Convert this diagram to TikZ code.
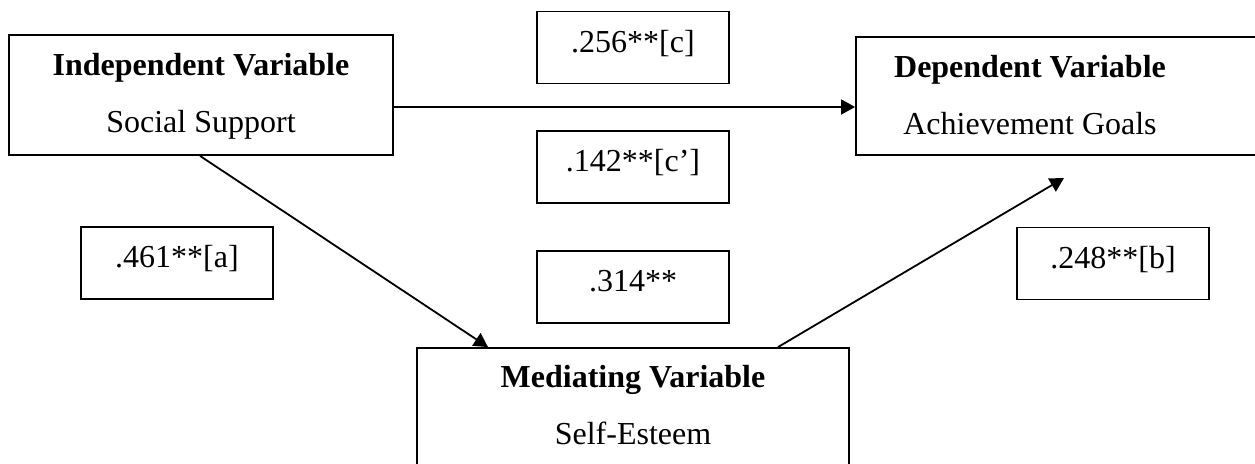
\documentclass[tikz,border=0pt]{standalone}
\usepackage{fontspec}
\setmainfont{Liberation Serif}
\usetikzlibrary{arrows.meta}
\begin{document}
\begin{tikzpicture}[x=0.5pt,y=-0.5pt,
  box/.style={draw, line width=0.9pt, inner sep=0pt},
  numbox/.style={box, minimum width=96pt, minimum height=36pt, text height=11pt, text depth=6pt, font=\fontsize{16}{19}\selectfont},
  conn/.style={line width=0.9pt, -{Triangle[length=7pt,width=7.5pt]}},
  lab/.style={font=\fontsize{16}{19}\selectfont, anchor=base, inner sep=0pt},
  ttl/.style={font=\fontsize{16}{19}\selectfont\bfseries, anchor=base, inner sep=0pt}]
\clip (0,0) rectangle (1255,464);
\fill[white] (0,0) rectangle (1255,464);
% main boxes
\node[box, minimum width=192pt, minimum height=60pt] (iv) at (201,95) {};
\node[box, minimum width=212pt, minimum height=59pt] (dv) at (1068,96) {};
\node[box, minimum width=216pt, minimum height=65pt] (mv) at (633,413) {};
% texts in main boxes
\node[ttl] (ivt) at (201,76) {Independent Variable};
\node[lab] (ivs) at (201,133) {Social Support};
\node[ttl] (dvt) at (1030,78) {Dependent Variable};
\node[lab] (dvs) at (1030,135) {Achievement Goals};
\node[ttl] (mvt) at (633,388) {Mediating Variable};
\node[lab] (mvs) at (633,445) {Self-Esteem};
% coefficient boxes
\node[numbox] (c) at (633,47.5) {.256**[c]};
\node[numbox] (cp) at (633,167) {.142**[c’]};
\node[numbox] (ab) at (633,287) {.314**};
\node[numbox] (a) at (177,263) {.461**[a]};
\node[numbox] (b) at (1113,263.5) {.248**[b]};
% connectors
\coordinate (hy) at (0,107);
\coordinate (a1) at (200,0);
\coordinate (a2) at (488,0);
\coordinate (b1) at (778,0);
\coordinate (btip) at (1064,178);
\draw[conn] (iv.east |- hy) -- (dv.west |- hy);
\draw[conn] (iv.south -| a1) -- (mv.north -| a2);
\draw[conn] (mv.north -| b1) -- (btip);
\end{tikzpicture}
\end{document}
